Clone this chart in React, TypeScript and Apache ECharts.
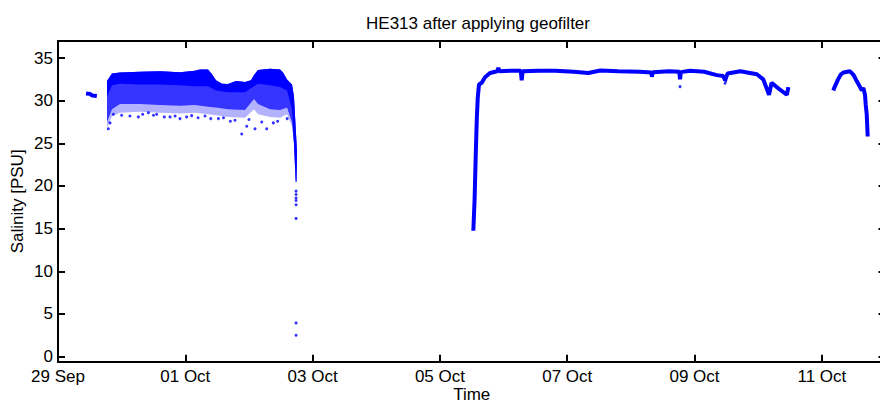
import React, { useEffect, useRef } from 'react';
import * as echarts from 'echarts';

const FONT = '"Liberation Sans", Arial, Helvetica, sans-serif';
const BLUE = '#0000ff';

// Time is expressed in days since 29 Sep 00:00
const xTickLabels = ['29 Sep', '01 Oct', '03 Oct', '05 Oct', '07 Oct', '09 Oct', '11 Oct'];

// Segment 1: short cluster before the noisy period
const seg1Days = [0.44, 0.5, 0.54, 0.61];
const seg1Sal = [30.85, 30.8, 30.6, 30.55];

// Segment 2: dense noisy period (envelopes of the point cloud)
const denseTopDays = [0.77, 0.848, 0.974, 1.288, 1.603, 1.917, 2.152, 2.231, 2.357, 2.419, 2.482, 2.577, 2.671, 2.797, 2.938, 3.032, 3.079, 3.142, 3.331, 3.488, 3.535, 3.598, 3.676, 3.707, 3.755, 3.747];
const denseTopSal = [32.3, 33.2, 33.3, 33.4, 33.45, 33.35, 33.5, 33.65, 33.65, 33.1, 32.4, 32.0, 31.95, 32.3, 32.2, 32.4, 33.0, 33.6, 33.75, 33.65, 33.3, 32.5, 31.9, 30.5, 24.0, 20.5];
const denseBottomDays = [0.77, 0.848, 0.974, 1.288, 1.603, 1.917, 2.152, 2.357, 2.482, 2.671, 2.938, 3.079, 3.142, 3.331, 3.488, 3.598, 3.676, 3.707, 3.734];
const solidBottomSal = [30.5, 31.8, 32.0, 31.9, 31.9, 31.8, 31.7, 31.7, 31.2, 31.0, 31.0, 31.7, 32.0, 31.8, 31.6, 31.2, 29.0, 25.0, 20.5];
const speckleBottomSal = [27.5, 29.0, 29.6, 29.6, 29.5, 29.4, 29.5, 29.3, 29.2, 29.0, 28.9, 30.2, 29.6, 29.0, 28.9, 29.2, 27.5, 25.0, 20.5];
const sparseBottomSal = [26.8, 28.2, 28.6, 28.7, 28.6, 28.5, 28.6, 28.4, 28.3, 28.1, 28.0, 29.0, 28.4, 28.1, 28.0, 28.4, 27.0, 25.0, 20.5];

// Scattered points below the dense cloud
const outlierDays = [0.79, 0.817, 0.87, 1.262, 1.42, 1.55, 1.76, 1.917, 2.1, 2.31, 2.52, 2.708, 2.886, 2.965, 3.095, 3.279, 3.383,
  1.0, 1.13, 1.33, 1.5, 1.67, 1.84, 2.02, 2.2, 2.4, 2.6, 2.78, 3.0, 3.2, 3.45, 3.6,
  3.74, 3.74, 3.74, 3.74, 3.74, 3.74, 3.74, 3.74];
const outlierSal = [26.7, 27.4, 28.4, 28.1, 28.6, 28.4, 28.1, 27.9, 28.25, 28.2, 27.9, 27.6, 26.1, 27.0, 26.7, 26.7, 27.4,
  28.3, 28.2, 28.4, 28.3, 28.1, 28.2, 28.1, 28.0, 27.9, 28.0, 27.7, 27.8, 27.5, 27.6, 27.9,
  19.4, 19.0, 18.6, 18.3, 17.8, 16.2, 3.95, 2.5];

// Segment 3: long continuous record
const seg3Days = [6.525, 6.545, 6.563, 6.58, 6.594, 6.614, 6.657, 6.708, 6.787, 6.9, 6.918, 6.935, 7.1, 7.27, 7.285, 7.3, 7.55, 7.81, 8.1, 8.33, 8.52, 8.8, 9.14, 9.32, 9.33, 9.345, 9.6, 9.76, 9.772, 9.785, 9.93, 10.15, 10.35, 10.45, 10.48, 10.52, 10.72, 10.87, 10.98, 11.08, 11.13, 11.17, 11.21, 11.29, 11.45, 11.475];
const seg3Sal = [14.75, 18.5, 23.7, 28.0, 30.3, 31.9, 32.1, 32.75, 33.25, 33.45, 33.85, 33.45, 33.5, 33.5, 32.4, 33.45, 33.5, 33.5, 33.4, 33.25, 33.55, 33.45, 33.4, 33.3, 32.8, 33.35, 33.45, 33.4, 32.5, 33.35, 33.5, 33.4, 33.0, 32.9, 32.4, 33.2, 33.45, 33.25, 33.1, 32.5, 31.5, 30.7, 32.1, 31.6, 30.7, 31.6];
const seg3DotDays = [9.772, 10.48, 10.49];
const seg3DotSal = [31.65, 32.05, 32.3];

// Segment 4: last record
const seg4Days = [12.18, 12.2, 12.255, 12.3, 12.338, 12.443, 12.5, 12.548, 12.6, 12.627, 12.652, 12.678, 12.69, 12.705, 12.72];
const seg4Sal = [31.2, 31.6, 32.5, 33.1, 33.3, 33.45, 33.0, 32.3, 31.6, 31.2, 31.5, 30.7, 29.5, 28.4, 25.8];

const zip = (a: number[], b: number[]) => a.map((v, i) => [v, b[i]]);

const axisLineStyle = { color: '#000', width: 2 };
const labelStyle = { color: '#000', fontSize: 17, fontFamily: FONT };

function bandSeries(top: number[][], bottom: number[][], fill: string) {
  return {
    type: 'custom',
    xAxisIndex: 0,
    yAxisIndex: 0,
    clip: true,
    silent: true,
    data: [top[0]],
    renderItem: (_params: any, api: any) => {
      const pts = [
        ...top.map((p) => api.coord(p)),
        ...bottom.slice().reverse().map((p) => api.coord(p)),
      ];
      return { type: 'polygon', shape: { points: pts }, style: { fill } };
    },
  };
}

export default function App() {
  const ref = useRef<HTMLDivElement>(null);
  useEffect(() => {
    const chart = echarts.init(ref.current!, null, { renderer: 'svg' });
    const top = zip(denseTopDays, denseTopSal);
    const option: any = {
      animation: false,
      backgroundColor: '#fff',
      title: {
        text: 'HE313 after applying geofilter',
        left: 473,
        top: 10,
        textAlign: 'center',
        textStyle: { color: '#000', fontSize: 17, fontWeight: 'normal', fontFamily: FONT },
      },
      grid: { left: 58, right: -5.5, top: 41, bottom: 43.3, containLabel: false, outerBoundsMode: 'none' },
      xAxis: [
        {
          type: 'value', min: 0, max: 13, interval: 2, position: 'bottom',
          axisLine: { show: true, onZero: false, lineStyle: axisLineStyle },
          axisTick: { show: true, inside: true, length: 7, lineStyle: axisLineStyle },
          axisLabel: {
            ...labelStyle, margin: 6,
            formatter: (v: number) => (Math.abs(v % 2) < 1e-9 && xTickLabels[v / 2] ? xTickLabels[v / 2] : ''),
          },
          splitLine: { show: false },
          name: 'Time', nameLocation: 'middle', nameGap: 24, nameMoveOverlap: false, nameTextStyle: labelStyle,
        },
        {
          type: 'value', min: 0, max: 13, interval: 2, position: 'top',
          axisLine: { show: true, onZero: false, lineStyle: axisLineStyle },
          axisTick: { show: true, inside: true, length: 7, lineStyle: axisLineStyle },
          axisLabel: { show: false },
          splitLine: { show: false },
        },
      ],
      yAxis: [
        {
          type: 'value', min: -0.6, max: 37, minInterval: 5, maxInterval: 5, splitNumber: 8, position: 'left',
          axisLine: { show: true, onZero: false, lineStyle: axisLineStyle },
          axisTick: { show: true, inside: true, length: 7, lineStyle: axisLineStyle },
          axisLabel: {
            ...labelStyle, margin: 5,
            formatter: (v: number) => (Math.abs(v % 5) < 1e-9 ? String(v) : ''),
          },
          splitLine: { show: false },
          name: 'Salinity [PSU]', nameLocation: 'middle', nameGap: 32, nameMoveOverlap: false, nameRotate: 90, nameTextStyle: labelStyle,
        },
        {
          type: 'value', min: -0.6, max: 37, minInterval: 5, maxInterval: 5, splitNumber: 8, position: 'right',
          axisLine: { show: true, onZero: false, lineStyle: axisLineStyle },
          axisTick: { show: true, inside: true, length: 7, lineStyle: axisLineStyle },
          axisLabel: { show: false },
          splitLine: { show: false },
        },
      ],
      series: [
        bandSeries(top, zip(denseBottomDays, sparseBottomSal), 'rgba(0,0,255,0.3)'),
        bandSeries(top, zip(denseBottomDays, speckleBottomSal), 'rgba(0,0,255,0.7)'),
        bandSeries(top, zip(denseBottomDays, solidBottomSal), BLUE),
        {
          type: 'line', data: zip(seg1Days, seg1Sal), showSymbol: false, symbol: 'none',
          lineStyle: { color: BLUE, width: 4 }, silent: true,
        },
        {
          type: 'line', data: zip(seg3Days, seg3Sal), showSymbol: false, symbol: 'none',
          lineStyle: { color: BLUE, width: 4 }, silent: true,
        },
        {
          type: 'line', data: zip(seg4Days, seg4Sal), showSymbol: false, symbol: 'none',
          lineStyle: { color: BLUE, width: 4 }, silent: true,
        },
        {
          type: 'scatter', data: [...zip(outlierDays, outlierSal), ...zip(seg3DotDays, seg3DotSal)],
          symbolSize: 3, itemStyle: { color: BLUE }, silent: true,
        },
      ],
    };
    chart.setOption(option);
    return () => chart.dispose();
  }, []);
  return <div ref={ref} style={{ position: 'fixed', left: 0, top: 0, width: 880, height: 405 }} />;
}
